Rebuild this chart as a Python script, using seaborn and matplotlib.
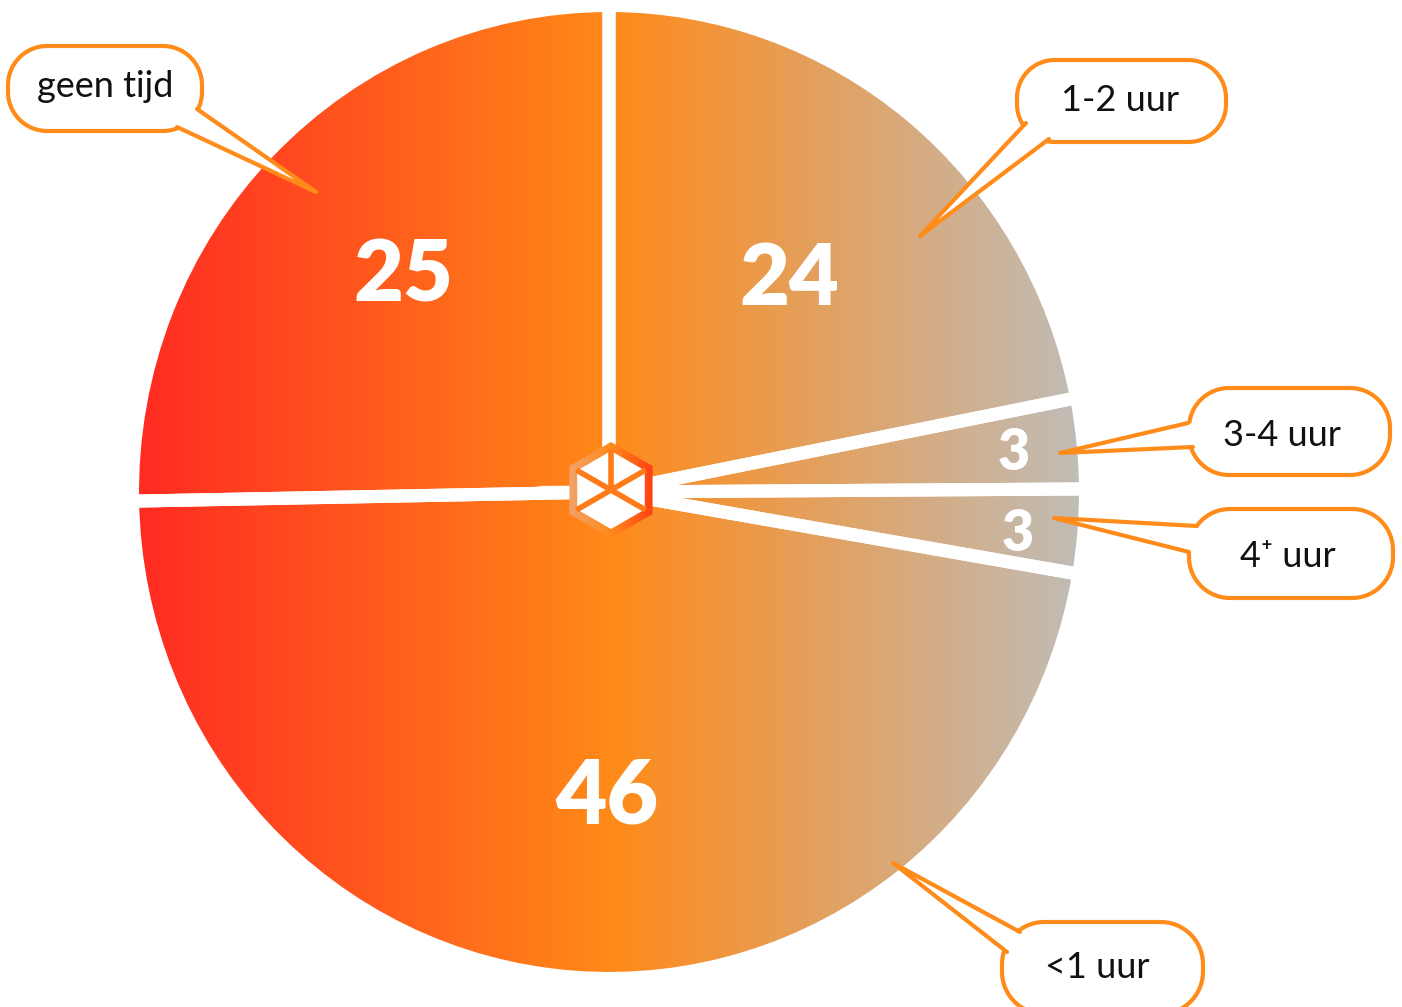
import numpy as np
import matplotlib
matplotlib.use("Agg")
import matplotlib.pyplot as plt
import seaborn as sns
from matplotlib.patches import Circle, Polygon, RegularPolygon

# Categories, clockwise from 12 o'clock
categories = ["1-2 uur", "3-4 uur", "4\u207a uur", "<1 uur", "geen tijd"]
# Numbers printed on the slices
shown_values = [24, 3, 3, 46, 25]
# Share of the circle each slice takes in the picture
slice_share = [21.9, 3.0, 2.8, 47.0, 25.3]

sns.set_theme(style="white")
plt.rcParams["font.family"] = ["Lato", "DejaVu Sans"]

ORANGE = "#ff8c1a"
pie_cmap = sns.blend_palette(["#ff2a22", "#ff8a18", "#bfbdb9"], as_cmap=True)
logo_cmap = sns.blend_palette(["#f0a678", "#ff8a1a", "#ff3512"], as_cmap=True)

W, H = 1402, 1007
fig = plt.figure(figsize=(W / 100, H / 100), dpi=100)

# ---- pie ----
ax = fig.add_axes([0, 0, 1, 1])
cx, cy = 609, 492          # pixel centre of the pie
rx, ry = 476.5, 486.5      # pixel radius incl. the white outline

grad = np.linspace(0, 1, 600).reshape(1, -1)
im = ax.imshow(grad, extent=[-1, 1, -1, 1], cmap=pie_cmap, aspect="auto",
               zorder=0, interpolation="bilinear")
im.set_clip_path(Circle((0, 0), 1, transform=ax.transData))

wedges, _ = ax.pie(slice_share, startangle=90, counterclock=False, radius=1,
                   wedgeprops=dict(facecolor="none", edgecolor="white", linewidth=9.4))
for w in wedges:
    w.set_zorder(2)

ax.set_xlim(-cx / rx, (W - cx) / rx)
ax.set_ylim(-(H - cy) / ry, cy / ry)
ax.set_aspect("auto")
ax.axis("off")

# ---- overlay in pixel coordinates ----
ov = fig.add_axes([0, 0, 1, 1], label="overlay")
ov.set_xlim(0, W)
ov.set_ylim(H, 0)
ov.axis("off")
ov.patch.set_alpha(0)

# numbers on the slices (x centre, baseline, size)
num_pos = [(789, 305, 62), (1014, 470, 40), (1018, 551, 40), (607, 824, 64), (403, 302, 62)]
for v, (x, y, fs) in zip(shown_values, num_pos):
    ov.text(x, y, str(v), ha="center", va="baseline", color="white",
            fontsize=fs, fontweight="heavy", zorder=6)

# logo in the middle
lx, ly, lr = 611, 490, 48
hexa = RegularPolygon((lx, ly), 6, radius=lr, orientation=0, facecolor="none",
                      edgecolor="none", zorder=7)
ov.add_patch(hexa)
lim = ov.imshow(grad, extent=[lx - lr, lx + lr, ly + lr, ly - lr], cmap=logo_cmap,
                aspect="auto", zorder=7, interpolation="bilinear")
lim.set_clip_path(hexa)
ov.add_patch(RegularPolygon((lx, ly), 6, radius=lr - 9, orientation=0,
                            facecolor="white", edgecolor="none", zorder=8))
for a in [90, 150, 30, 210, 330]:
    t = np.deg2rad(a)
    ov.plot([lx, lx + (lr - 8) * np.cos(t)], [ly, ly - (lr - 8) * np.sin(t)],
            color="#ff7a18", lw=4, zorder=9, solid_capstyle="butt")


def pill(x0, y0, x1, y1, r):
    # rounded box outline with circular corners
    pts = []
    corners = [(x1 - r, y0 + r, -90, 0), (x1 - r, y1 - r, 0, 90),
               (x0 + r, y1 - r, 90, 180), (x0 + r, y0 + r, 180, 270)]
    for ccx, ccy, a0, a1 in corners:
        t = np.deg2rad(np.linspace(a0, a1, 24))
        pts += list(zip(ccx + r * np.cos(t), ccy + r * np.sin(t)))
    return pts


# callouts: box (x0, y0, x1, y1), pointer base points, tip, text position
callouts = [
    ((1017, 60, 1226, 142), (1026, 123), (1049, 139), (920, 236), (1120, 111)),
    ((1189, 388, 1390, 475), (1188, 423), (1193, 447), (1060, 453), (1282, 446)),
    ((1189, 509, 1393, 598), (1197, 526), (1189, 552), (1054, 518), (1288, 567)),
    ((1002, 922, 1203, 1014), (1020, 932), (1007, 952), (893, 863), (1097, 978)),
    ((8, 46, 202, 131), (197, 109), (177, 127), (316, 192), (105, 97)),
]
for label, (box, b1, b2, tip, tpos) in zip(categories, callouts):
    x0, y0, x1, y1 = box
    h = y1 - y0
    ov.add_patch(Polygon(pill(x0, y0, x1, y1, h * 0.46), closed=True,
                         facecolor="white", edgecolor=ORANGE, lw=3, zorder=3))
    mid = ((x0 + x1) / 2, (y0 + y1) / 2)
    ov.add_patch(Polygon([b1, tip, b2, mid], closed=True, facecolor="white",
                         edgecolor="none", zorder=4))
    ov.plot([b1[0], tip[0], b2[0]], [b1[1], tip[1], b2[1]], color=ORANGE, lw=3,
            solid_joinstyle="round", zorder=5)
    ov.text(tpos[0], tpos[1], label, ha="center", va="baseline", color="#111111",
            fontsize=26, zorder=6)

fig.savefig("out.png", dpi=100)
